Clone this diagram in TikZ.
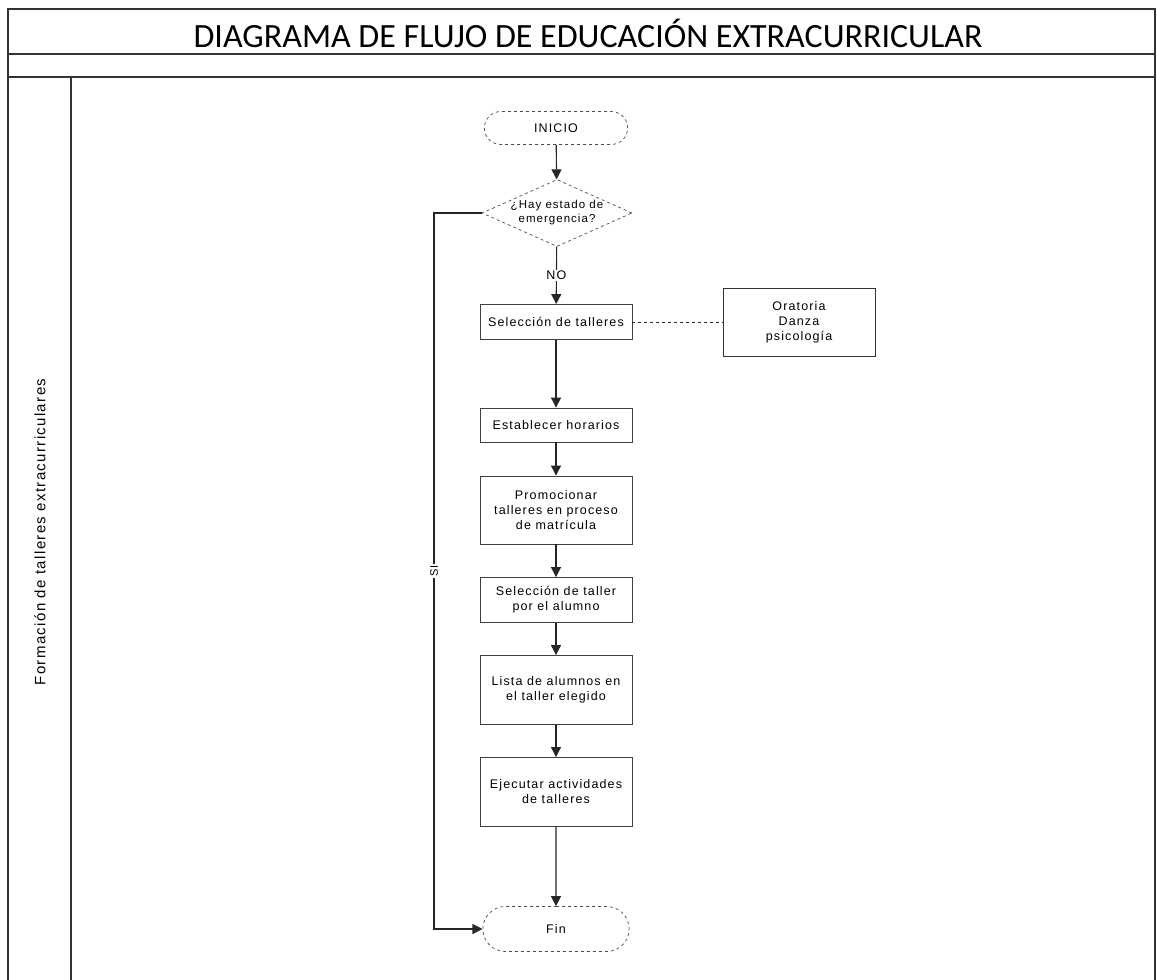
\documentclass[tikz,border=0pt]{standalone}
\usepackage{fontspec}
\setmainfont{Liberation Sans}[LetterSpace=9]
\newfontfamily\titlefont{Carlito}
\usetikzlibrary{shapes.geometric,shapes.misc,arrows.meta}
\begin{document}
\begin{tikzpicture}[x=1pt,y=-1pt,
  frame/.style={draw=black!80,line width=1.2pt},
  txt/.style={font=\fontsize{12.5}{15}\selectfont},
  procbox/.style={txt,draw=black!75,line width=0.9pt,minimum width=152pt,align=center,inner sep=2pt},
  terminal/.style={txt,draw=black!70,dashed,line width=0.7pt,rounded rectangle,minimum width=150pt},
  decision/.style={font=\fontsize{11.5}{14}\selectfont,draw=black!70,dashed,line width=0.7pt,diamond,aspect=2.2,inner sep=-4pt,minimum width=150pt,minimum height=67pt,align=center},
  flow/.style={draw=black!85,line width=1.1pt,-{Triangle[length=10pt,width=10pt]}},
  link/.style={draw=black!85,line width=1.1pt}]
\useasboundingbox (0,0) rectangle (1157,980);
% lane frame
\draw[frame] (8,980) -- (8,9) -- (1155,9) -- (1155,980);
\draw[frame] (8,54) -- (1155,54);
\draw[frame] (8,77) -- (1155,77);
\draw[frame] (71,77) -- (71,980);
\node[font=\titlefont\fontsize{34}{36}\selectfont] (title) at (588,33) {DIAGRAMA DE FLUJO DE EDUCACIÓN EXTRACURRICULAR};
\node[rotate=90,font=\fontsize{15}{17}\selectfont] (lane) at (40,532) {Formación de talleres extracurriculares};
% flow nodes
\node[terminal,minimum height=33pt] (inicio) at (556,128) {INICIO};
\node[decision] (dec) at (557,213) {¿Hay estado de\\emergencia?};
\node[procbox,minimum height=35pt] (sel) at (556,322) {Selección de talleres};
\node[procbox,minimum height=68pt,minimum width=152pt,draw=black!80] (ora) at (799,322) {Oratoria\\Danza\\psicología};
\node[procbox,minimum height=34pt] (hor) at (556,425) {Establecer horarios};
\node[procbox,minimum height=68pt] (prom) at (556,510) {Promocionar\\talleres en proceso\\de matrícula};
\node[procbox,minimum height=45pt] (alum) at (556,600) {Selección de taller\\por el alumno};
\node[procbox,minimum height=69pt] (lista) at (556,690) {Lista de alumnos en\\el taller elegido};
\node[procbox,minimum height=69pt] (ejec) at (556,792) {Ejecutar actividades\\de talleres};
\node[terminal,minimum height=45pt,minimum width=153pt] (fin) at (556,929) {Fin};
\coordinate (ltop) at (434,213);
\coordinate (lbot) at (434,929);
% connectors
\draw[flow] (inicio) -- (dec);
\draw[flow] (dec) -- node[fill=white,inner sep=1pt,txt] {NO} (sel);
\draw[link,dashed,line width=1pt] (sel.east) -- (ora.west);
\draw[flow] (sel) -- (hor);
\draw[flow] (hor) -- (prom);
\draw[flow] (prom) -- (alum);
\draw[flow] (alum) -- (lista);
\draw[flow] (lista) -- (ejec);
\draw[flow] (ejec) -- (fin);
\draw[flow] (dec.west) -- (ltop) -- node[pos=0.5,fill=white,inner sep=1pt,rotate=90,font=\fontsize{11}{12}\selectfont] {SI} (lbot) -- (fin.west);
\end{tikzpicture}
\end{document}
